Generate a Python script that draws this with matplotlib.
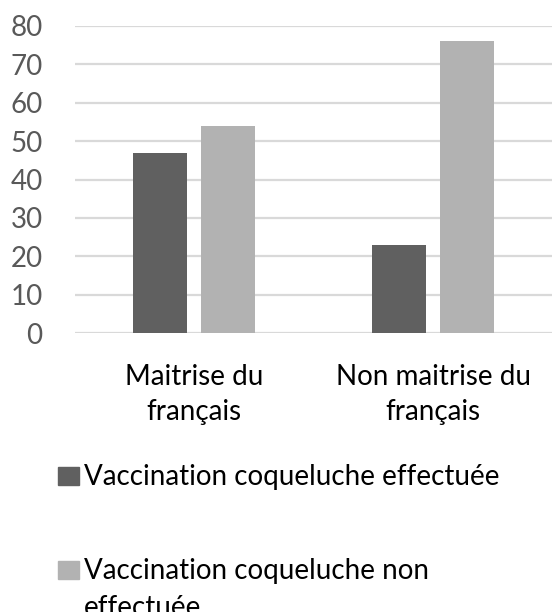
import matplotlib
matplotlib.use('Agg')
from matplotlib import pyplot as plt
from matplotlib.patches import Rectangle

categories = ['Maitrise du\nfrançais', 'Non maitrise du\nfrançais']
series_names = ['Vaccination coqueluche effectuée', 'Vaccination coqueluche non\neffectuée']
effectuee = [47, 23]
non_effectuee = [54, 76]
colors = ['#606060', '#b2b2b2']
yticks = [0, 10, 20, 30, 40, 50, 60, 70, 80]

plt.rcParams['font.family'] = ['Lato', 'DejaVu Sans']

W, H = 552, 612
fig = plt.figure(figsize=(W / 100, H / 100), dpi=100)
ax = fig.add_axes([74.5 / W, 1 - 333 / H, 478 / W, 307 / H])

x = range(len(categories))
bw = 0.226
off = 0.142
ax.bar([i - off for i in x], effectuee, width=bw, color=colors[0], zorder=3)
ax.bar([i + off for i in x], non_effectuee, width=bw, color=colors[1], zorder=3)

ax.set_xlim(-0.5, 1.5)
ax.set_ylim(0, 80)
ax.set_yticks(yticks)
ax.yaxis.grid(True, color='#d9d9d9', linewidth=1.6, zorder=0)
for s in ax.spines.values():
    s.set_visible(False)
ax.tick_params(axis='y', length=0, pad=23, labelsize=20, labelcolor='#595959')
ax.set_xticks(list(x))
ax.set_xticklabels(categories, fontsize=20, color='#000000', linespacing=1.45)
ax.tick_params(axis='x', length=0, pad=22)

# legend drawn by hand (entries stacked, second wraps and gets clipped)
ys = [485, 579]
for name, c, yb in zip(series_names, colors, ys):
    fig.patches.append(Rectangle((58 / W, 1 - yb / H), 21 / W, 18 / H,
                                 transform=fig.transFigure, color=c))
    for k, line in enumerate(name.split('\n')):
        fig.text(84 / W, 1 - (yb + 37 * k) / H, line, fontsize=20,
                 va='baseline', ha='left')

fig.savefig('out.png', dpi=100)
